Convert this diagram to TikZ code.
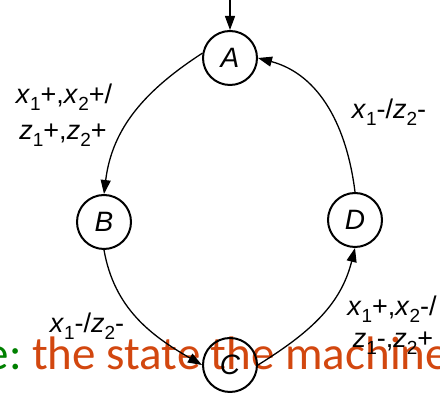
\documentclass[tikz,border=0pt]{standalone}
\usepackage{fontspec}
\setmainfont{Liberation Sans}
\newfontfamily\carlito{Carlito}
\usetikzlibrary{arrows.meta}
\definecolor{bgorange}{RGB}{210,71,15}
\definecolor{bggreen}{RGB}{0,128,0}
\newcommand\vsub[2]{\textit{#1}\raisebox{-0.25em}{\fontsize{19}{19}\selectfont #2}}
\begin{document}
\begin{tikzpicture}[x=1pt,y=1pt,
  state/.style={circle,draw,line width=2pt,minimum size=54pt,inner sep=0pt,font=\fontsize{28}{28}\selectfont\itshape},
  trans/.style={line width=1.3pt,-{Triangle[length=14pt,width=10pt]}},
  lbl/.style={font=\fontsize{27}{30}\selectfont,inner sep=0pt}]
\clip (0,0) rectangle (440,393);
\useasboundingbox (0,0) rectangle (440,393);
\node[anchor=base west,inner sep=0pt,font=\carlito\fontsize{47}{47}\selectfont,text=bgorange] (bg) at (32,23) {\llap{\textcolor{bggreen}{e:}\ }the state the machine};
\node[state] (A) at (230,335) {A};
\node[state] (B) at (104,171) {B};
\node[state] (C) at (230,28) {C};
\node[state] (D) at (355,173) {D};
\coordinate (init) at (230,393);
\draw[trans] (init) -- (A);
\draw[trans] (A.170) to[out=213,in=83] (B.north);
\draw[trans] (B.south) to[out=280,in=150] (C.180);
\draw[trans] (C.0) to[out=32,in=256] (D.south);
\draw[trans] (D.north) to[out=97,in=345] (A.east);
\node[lbl] (l1a) at (64,296) {\vsub{x}{1}+,\vsub{x}{2}+/};
\node[lbl] (l1b) at (63,258) {\vsub{z}{1}+,\vsub{z}{2}+};
\node[lbl] (l2) at (389,281) {\vsub{x}{1}-/\vsub{z}{2}-};
\node[lbl] (l3) at (87,67) {\vsub{x}{1}-/\vsub{z}{2}-};
\node[lbl] (l4a) at (392,84) {\vsub{x}{1}+,\vsub{x}{2}-/};
\node[lbl] (l4b) at (393,50) {\vsub{z}{1}-,\vsub{z}{2}+};
\end{tikzpicture}
\end{document}
